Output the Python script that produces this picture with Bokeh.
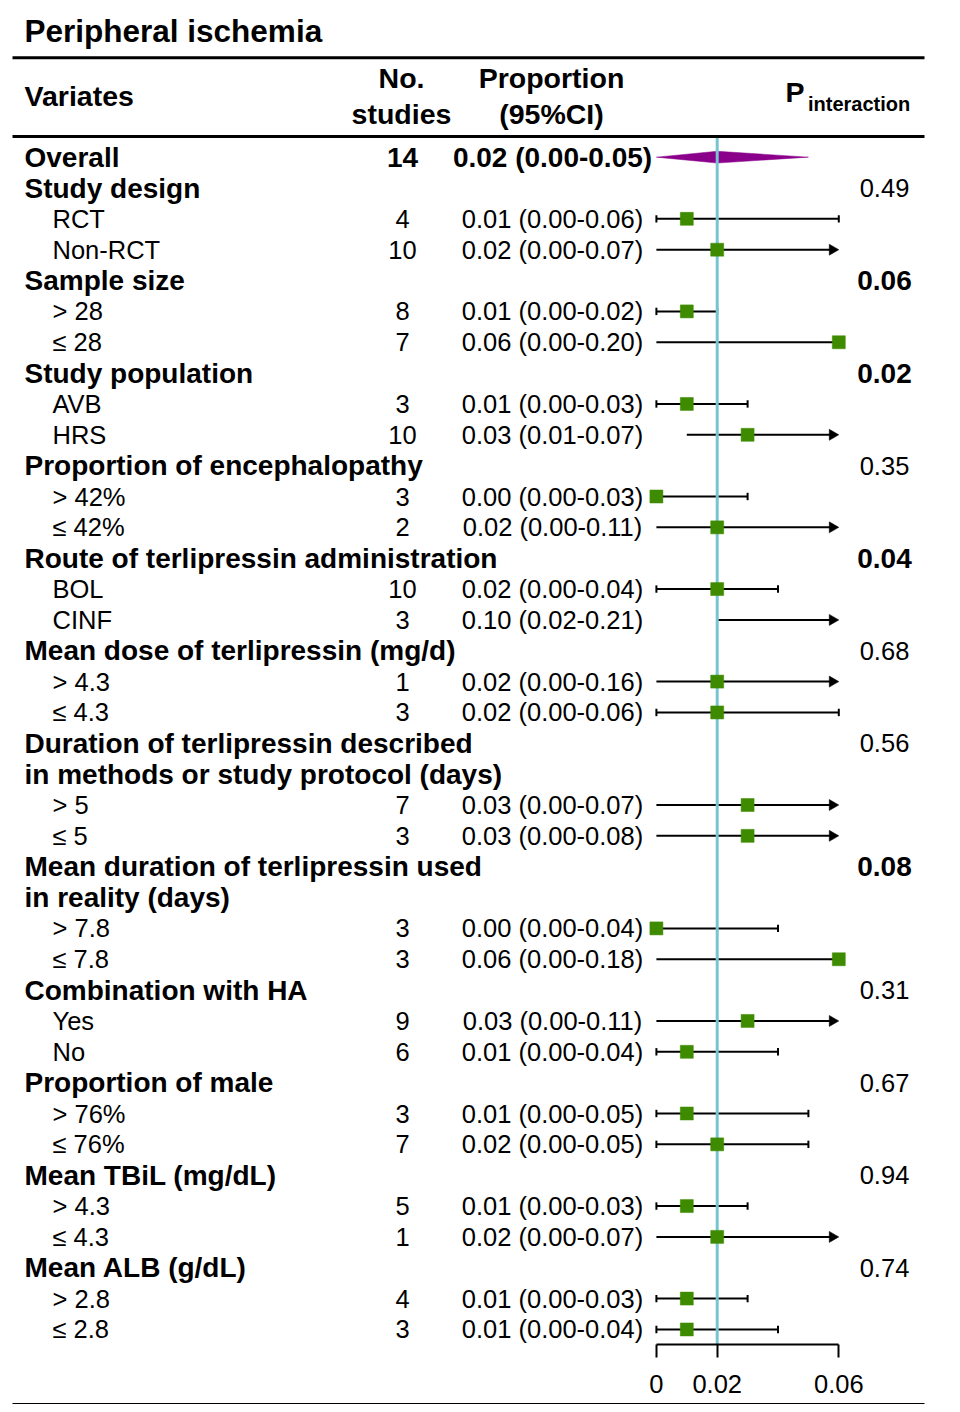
import math
from bokeh.plotting import figure
from bokeh.models import Range1d, LinearAxis, FixedTicker, ColumnDataSource
from bokeh.core.properties import value
from bokeh.embed import file_html
from bokeh.resources import INLINE

# ---------------- data ----------------
chart_title = "Peripheral ischemia"
header_variates = "Variates"
header_n = ["No.", "studies"]
header_prop = ["Proportion", "(95%CI)"]
header_p_main = "P"
header_p_sub = "interaction"

overall_label = "Overall"
overall_n = 14
overall_est = 0.02
overall_lo = 0.00
overall_hi = 0.05

group_names = [
    "Study design",
    "Sample size",
    "Study population",
    "Proportion of encephalopathy",
    "Route of terlipressin administration",
    "Mean dose of terlipressin (mg/d)",
    "Duration of terlipressin described\nin methods or study protocol (days)",
    "Mean duration of terlipressin used\nin reality (days)",
    "Combination with HA",
    "Proportion of male",
    "Mean TBiL (mg/dL)",
    "Mean ALB (g/dL)",
]
group_p = [0.49, 0.06, 0.02, 0.35, 0.04, 0.68, 0.56, 0.08, 0.31, 0.67, 0.94, 0.74]

sub_labels = [["RCT", "Non-RCT"], ["> 28", "≤ 28"], ["AVB", "HRS"], ["> 42%", "≤ 42%"],
              ["BOL", "CINF"], ["> 4.3", "≤ 4.3"], ["> 5", "≤ 5"], ["> 7.8", "≤ 7.8"],
              ["Yes", "No"], ["> 76%", "≤ 76%"], ["> 4.3", "≤ 4.3"], ["> 2.8", "≤ 2.8"]]
sub_n = [[4, 10], [8, 7], [3, 10], [3, 2], [10, 3], [1, 3], [7, 3], [3, 3],
         [9, 6], [3, 7], [5, 1], [4, 3]]
sub_est = [[0.01, 0.02], [0.01, 0.06], [0.01, 0.03], [0.00, 0.02], [0.02, 0.10], [0.02, 0.02],
           [0.03, 0.03], [0.00, 0.06], [0.03, 0.01], [0.01, 0.02], [0.01, 0.02], [0.01, 0.01]]
sub_lo = [[0.00, 0.00], [0.00, 0.00], [0.00, 0.01], [0.00, 0.00], [0.00, 0.02], [0.00, 0.00],
          [0.00, 0.00], [0.00, 0.00], [0.00, 0.00], [0.00, 0.00], [0.00, 0.00], [0.00, 0.00]]
sub_hi = [[0.06, 0.07], [0.02, 0.20], [0.03, 0.07], [0.03, 0.11], [0.04, 0.21], [0.16, 0.06],
          [0.07, 0.08], [0.04, 0.18], [0.11, 0.04], [0.05, 0.05], [0.03, 0.07], [0.03, 0.04]]

axis_ticks = [0, 0.02, 0.06]
axis_tick_labels = ["0", "0.02", "0.06"]
x_max = 0.06

# ---------------- layout constants ----------------
FONT = value("Liberation Sans")
W, FRAME_H = 960, 1344
PAGE_L, PAGE_T = 0, 0
PX_ZERO, PX_PER_UNIT = 655.9, 3040.0
ROW0, PITCH = 187.5, 30.85
FRAME_B = PAGE_T + FRAME_H

BOLD_SZ = "28px"
REG_SZ = "25.5px"
HEAD_SZ = "28.5px"

GREEN = "#3f8b00"
PURPLE = "#8b008b"
TEAL = "#76c5d1"

x_range = Range1d((PAGE_L - PX_ZERO) / PX_PER_UNIT, (PAGE_L + W - PX_ZERO) / PX_PER_UNIT)
y_range = Range1d((FRAME_B - ROW0) / PITCH, (PAGE_T - ROW0) / PITCH)

p = figure(frame_width=W, frame_height=FRAME_H, x_range=x_range, y_range=y_range,
           x_axis_type=None, y_axis_type=None, output_backend="svg",
           toolbar_location=None, min_border=0, outline_line_color=None,
           background_fill_color="white", border_fill_color="white")
p.min_border_left = 0
p.min_border_right = 0
p.min_border_top = 0
p.min_border_bottom = 0
p.extra_x_ranges = {"px": Range1d(PAGE_L, PAGE_L + W)}
p.extra_y_ranges = {"px": Range1d(FRAME_B, PAGE_T)}

# ---------------- build rows ----------------
grp_k, grp_txt = [], []
pv_k, pv_txt, pv_bold = [], [], []
s_k, s_lab, s_n, s_prop, s_est, s_lo, s_hi = [], [], [], [], [], [], []
k = 0
for gi, name in enumerate(group_names):
    lines = name.split("\n")
    for li, line in enumerate(lines):
        grp_k.append(k + li)
        grp_txt.append(line)
    pv_k.append(k)
    pv_txt.append(f"{group_p[gi]:.2f}")
    pv_bold.append(group_p[gi] < 0.10)
    k += len(lines)
    for j, lab in enumerate(sub_labels[gi]):
        e, lo, hi = sub_est[gi][j], sub_lo[gi][j], sub_hi[gi][j]
        s_k.append(k)
        s_lab.append(lab)
        s_n.append(str(sub_n[gi][j]))
        s_prop.append(f"{e:.2f} ({lo:.2f}-{hi:.2f})")
        s_est.append(e)
        s_lo.append(lo)
        s_hi.append(hi)
        k += 1
overall_k = -1

# ---------------- forest marks ----------------
seg = dict(x0=[], x1=[], y=[])
caps = dict(x=[], y0=[], y1=[])
arrows = dict(x=[], y=[])
sq = dict(x=[], y=[])
CAP_H = 3.7 / PITCH
tri_size = 11
tri_tip = tri_size / 2 * math.sqrt(3) * 2 / 3
for kk, e, lo, hi in zip(s_k, s_est, s_lo, s_hi):
    at_edge = abs(e - x_max) < 1e-9
    clipped = hi > x_max
    seg["x0"].append(lo)
    seg["x1"].append(min(hi, x_max) - (3 / PX_PER_UNIT if clipped and not at_edge else 0))
    seg["y"].append(kk)
    if clipped:
        if not at_edge:
            arrows["x"].append(x_max - tri_tip / PX_PER_UNIT)
            arrows["y"].append(kk)
    else:
        for cx in (lo, hi):
            caps["x"].append(cx)
            caps["y0"].append(kk - CAP_H)
            caps["y1"].append(kk + CAP_H)
    if e <= x_max:
        sq["x"].append(e)
        sq["y"].append(kk)

p.segment(x0="x0", x1="x1", y0="y", y1="y", source=ColumnDataSource(seg),
          line_color="black", line_width=2)
p.segment(x0="x", x1="x", y0="y0", y1="y1", source=ColumnDataSource(caps),
          line_color="black", line_width=2)
p.scatter(x="x", y="y", source=ColumnDataSource(arrows), marker="triangle",
          size=tri_size, angle=-math.pi / 2, fill_color="black", line_color="black", line_width=0.5)

# overall diamond
DH = 5.9 / PITCH
p.patch(x=[overall_lo, overall_est, overall_hi, overall_est],
        y=[overall_k, overall_k - DH, overall_k, overall_k + DH],
        fill_color=PURPLE, line_color=PURPLE, line_width=0.5)

# reference line at the overall estimate
p.segment(x0=[overall_est], x1=[overall_est], y0=[137.5], y1=[FRAME_B], y_range_name="px",
          line_color=TEAL, line_width=3)

p.scatter(x="x", y="y", source=ColumnDataSource(sq), marker="square", size=13,
          fill_color=GREEN, line_color=GREEN, line_width=0.5)

# ---------------- rules ----------------
p.segment(x0=[12, 12], x1=[924, 924], y0=[57.3, 136], y1=[57.3, 136],
          x_range_name="px", y_range_name="px", line_color="black", line_width=3)

# ---------------- texts ----------------
def txt(xs, ys, texts, size, bold, align, yname="default"):
    kw = dict(x=xs, y=ys, text=texts, x_range_name="px", text_font=FONT,
              text_font_size=size, text_font_style="bold" if bold else "normal",
              text_align=align, text_baseline="middle", text_color="black")
    if yname != "default":
        kw["y_range_name"] = yname
    p.text(**kw)

# title and column headers (page-pixel centres)
txt([24], [30.5], [chart_title], "31.5px", True, "left", "px")
txt([24], [95.9], [header_variates], HEAD_SZ, True, "left", "px")
txt([401, 401], [77.8, 113.3], header_n, HEAD_SZ, True, "center", "px")
txt([551, 551], [77.8, 113.3], header_prop, HEAD_SZ, True, "center", "px")
txt([785], [91.9], [header_p_main], HEAD_SZ, True, "left", "px")
txt([807.5], [103.5], [header_p_sub], "20px", True, "left", "px")

# overall row
txt([24], [overall_k], [overall_label], BOLD_SZ, True, "left")
txt([402], [overall_k], [str(overall_n)], BOLD_SZ, True, "center")
txt([552], [overall_k], [f"{overall_est:.2f} ({overall_lo:.2f}-{overall_hi:.2f})"],
    BOLD_SZ, True, "center")

# groups
txt([24] * len(grp_k), grp_k, grp_txt, BOLD_SZ, True, "left")
pv_b = [i for i, b in enumerate(pv_bold) if b]
pv_r = [i for i, b in enumerate(pv_bold) if not b]
txt([884] * len(pv_b), [pv_k[i] for i in pv_b], [pv_txt[i] for i in pv_b], BOLD_SZ, True, "center")
txt([884] * len(pv_r), [pv_k[i] for i in pv_r], [pv_txt[i] for i in pv_r], REG_SZ, False, "center")

# subgroups
txt([52] * len(s_k), s_k, s_lab, REG_SZ, False, "left")
txt([402] * len(s_k), s_k, s_n, REG_SZ, False, "center")
txt([552] * len(s_k), s_k, s_prop, REG_SZ, False, "center")

# ---------------- axes ----------------
xaxis = LinearAxis(ticker=FixedTicker(ticks=axis_ticks), bounds=(axis_ticks[0], axis_ticks[-1]),
                   major_label_overrides=dict(zip(axis_ticks, axis_tick_labels)))
xaxis.axis_line_width = 2
xaxis.axis_line_color = "black"
xaxis.major_tick_line_width = 2
xaxis.major_tick_line_color = "black"
xaxis.major_tick_in = 0
xaxis.major_tick_out = 13
xaxis.minor_tick_in = 0
xaxis.minor_tick_out = 0
xaxis.major_label_standoff = 17
xaxis.major_label_text_font = "Liberation Sans"
xaxis.major_label_text_font_size = REG_SZ
xaxis.major_label_text_color = "black"
xaxis.axis_label = " "
xaxis.axis_label_standoff = 0
xaxis.axis_label_text_font_size = "6px"
p.add_layout(xaxis, "below")

base = LinearAxis(x_range_name="px", ticker=FixedTicker(ticks=[]), bounds=(12, 924))
base.axis_line_width = 3
base.axis_line_color = "black"
base.major_tick_out = 0
base.major_tick_in = 0
base.minor_tick_out = 0
base.minor_tick_in = 0
base.major_label_text_font_size = "0px"
p.add_layout(base, "below")

open("out.html", "w").write(file_html(p, INLINE))
